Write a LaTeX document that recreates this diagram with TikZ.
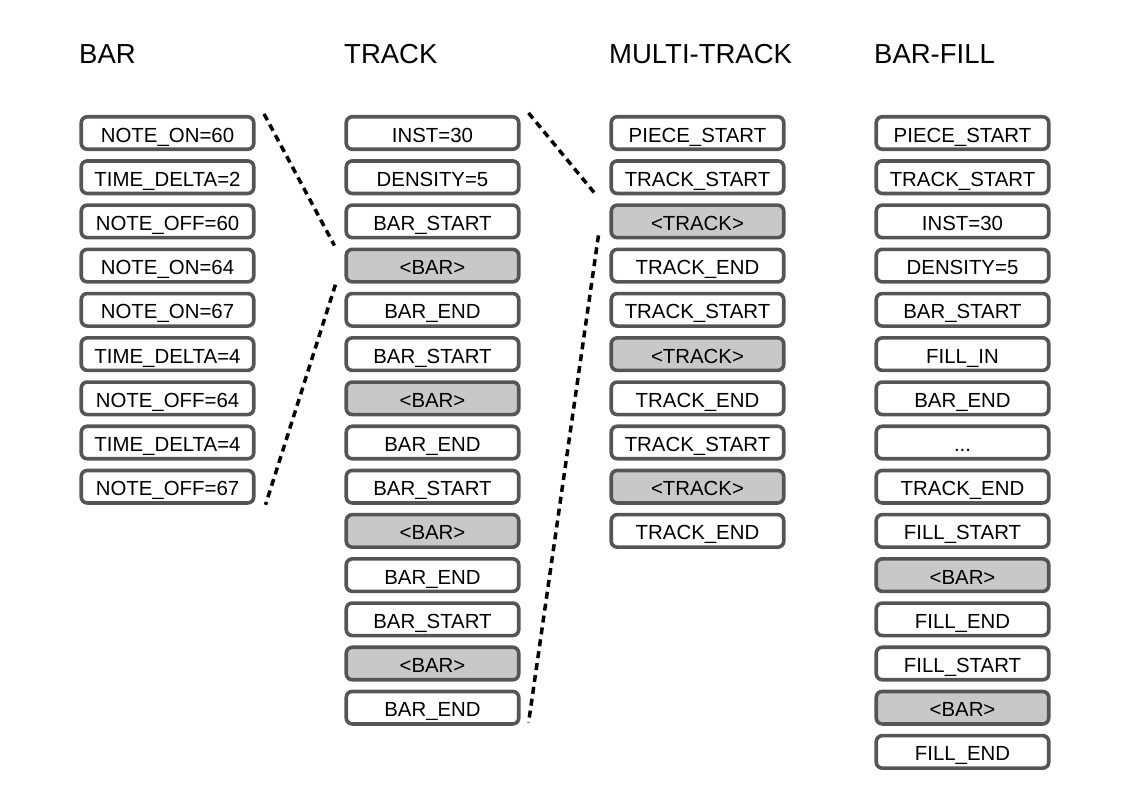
\documentclass[tikz,border=0pt]{standalone}
\usepackage{fontspec}
\setmainfont{Liberation Sans}
\usetikzlibrary{calc}
\definecolor{boxline}{HTML}{555555}
\definecolor{boxgray}{HTML}{C8C8C8}
\tikzset{
  tok/.style={draw=boxline, line width=3.6pt, rounded corners=6pt, fill=white,
    minimum width=172.5pt, minimum height=32.5pt, inner sep=0pt,
    text height=18pt, text depth=0pt, font=\fontsize{20.4}{24}\selectfont},
  hole/.style={tok, fill=boxgray},
  head/.style={anchor=base west, inner sep=0pt, font=\fontsize{27.5}{32}\selectfont},
  zoomline/.style={line width=3.5pt, dash pattern=on 7pt off 5pt}
}
\begin{document}
\begin{tikzpicture}[x=1pt,y=-1pt]
  \useasboundingbox (0,0) rectangle (1130,795);
  % column titles
  \path
    (79,63) node[head] (hbar){BAR}
    (344,63) node[head] (htrack){TRACK}
    (609,63) node[head] (hmulti){MULTI-TRACK}
    (874,63) node[head] (hfill){BAR-FILL};
  % bar
  \path
    (167.5,133.0) node[tok] (b1){NOTE\_ON=60}
    (167.5,177.2) node[tok] (b2){TIME\_DELTA=2}
    (167.5,221.4) node[tok] (b3){NOTE\_OFF=60}
    (167.5,265.6) node[tok] (b4){NOTE\_ON=64}
    (167.5,309.8) node[tok] (b5){NOTE\_ON=67}
    (167.5,354.1) node[tok] (b6){TIME\_DELTA=4}
    (167.5,398.3) node[tok] (b7){NOTE\_OFF=64}
    (167.5,442.5) node[tok] (b8){TIME\_DELTA=4}
    (167.5,486.7) node[tok] (b9){NOTE\_OFF=67};
  % track
  \path
    (432.5,133.0) node[tok] (t1){INST=30}
    (432.5,177.2) node[tok] (t2){DENSITY=5}
    (432.5,221.4) node[tok] (t3){BAR\_START}
    (432.5,265.6) node[hole] (t4){<BAR>}
    (432.5,309.8) node[tok] (t5){BAR\_END}
    (432.5,354.1) node[tok] (t6){BAR\_START}
    (432.5,398.3) node[hole] (t7){<BAR>}
    (432.5,442.5) node[tok] (t8){BAR\_END}
    (432.5,486.7) node[tok] (t9){BAR\_START}
    (432.5,530.9) node[hole] (t10){<BAR>}
    (432.5,575.1) node[tok] (t11){BAR\_END}
    (432.5,619.3) node[tok] (t12){BAR\_START}
    (432.5,663.5) node[hole] (t13){<BAR>}
    (432.5,707.7) node[tok] (t14){BAR\_END};
  % multi-track
  \path
    (697.5,133.0) node[tok] (m1){PIECE\_START}
    (697.5,177.2) node[tok] (m2){TRACK\_START}
    (697.5,221.4) node[hole] (m3){<TRACK>}
    (697.5,265.6) node[tok] (m4){TRACK\_END}
    (697.5,309.8) node[tok] (m5){TRACK\_START}
    (697.5,354.1) node[hole] (m6){<TRACK>}
    (697.5,398.3) node[tok] (m7){TRACK\_END}
    (697.5,442.5) node[tok] (m8){TRACK\_START}
    (697.5,486.7) node[hole] (m9){<TRACK>}
    (697.5,530.9) node[tok] (m10){TRACK\_END};
  % bar-fill
  \path
    (962.5,133.0) node[tok] (f1){PIECE\_START}
    (962.5,177.2) node[tok] (f2){TRACK\_START}
    (962.5,221.4) node[tok] (f3){INST=30}
    (962.5,265.6) node[tok] (f4){DENSITY=5}
    (962.5,309.8) node[tok] (f5){BAR\_START}
    (962.5,354.1) node[tok] (f6){FILL\_IN}
    (962.5,398.3) node[tok] (f7){BAR\_END}
    (962.5,442.5) node[tok] (f8){...}
    (962.5,486.7) node[tok] (f9){TRACK\_END}
    (962.5,530.9) node[tok] (f10){FILL\_START}
    (962.5,575.1) node[hole] (f11){<BAR>}
    (962.5,619.3) node[tok] (f12){FILL\_END}
    (962.5,663.5) node[tok] (f13){FILL\_START}
    (962.5,707.7) node[hole] (f14){<BAR>}
    (962.5,751.9) node[tok] (f15){FILL\_END};
  % zoom lines
  \coordinate (z1) at ($(b1.north east)+(8.5,-1)$);
  \coordinate (z2) at ($(t4.north west)+(-10,-2)$);
  \coordinate (z3) at ($(t4.south west)+(-9,1)$);
  \coordinate (z4) at ($(b9.south east)+(10,0)$);
  \coordinate (z5) at ($(t1.north east)+(8,-2)$);
  \coordinate (z6) at ($(m3.north west)+(-13,-8)$);
  \coordinate (z7) at ($(m3.south west)+(-11,-4)$);
  \coordinate (z8) at ($(t14.south east)+(8,-3)$);
  \begin{scope}[zoomline]
    \draw (z1) to (z2);
    \draw (z3) to (z4);
    \draw (z5) to (z6);
    \draw (z7) to (z8);
  \end{scope}
\end{tikzpicture}
\end{document}
